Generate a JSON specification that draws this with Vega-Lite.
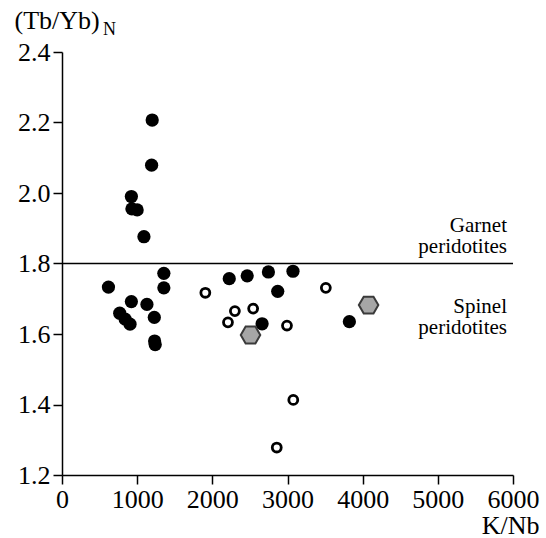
{
  "$schema": "https://vega.github.io/schema/vega-lite/v6.json",
  "width": 451,
  "height": 423,
  "autosize": {"type": "none"},
  "padding": {"left": 62, "top": 52, "right": 33, "bottom": 63},
  "background": "white",
  "config": {
    "view": {"stroke": null},
    "font": "Liberation Serif",
    "axis": {"labelFont": "Liberation Serif", "titleFont": "Liberation Serif", "labelColor": "black", "titleColor": "black", "domainColor": "black", "tickColor": "black", "grid": false, "labelFontSize": 26, "titleFontSize": 26, "titleFontWeight": "normal", "domainWidth": 1.5, "tickWidth": 1.5, "tickSize": 9}
  },
  "datasets": {
    "pts": [
      {"k": 1200, "tb": 2.207, "type": "filled"},
      {"k": 1192, "tb": 2.079, "type": "filled"},
      {"k": 923, "tb": 1.99, "type": "filled"},
      {"k": 930, "tb": 1.955, "type": "filled"},
      {"k": 1000, "tb": 1.952, "type": "filled"},
      {"k": 1090, "tb": 1.876, "type": "filled"},
      {"k": 1355, "tb": 1.772, "type": "filled"},
      {"k": 1355, "tb": 1.731, "type": "filled"},
      {"k": 618, "tb": 1.733, "type": "filled"},
      {"k": 923, "tb": 1.692, "type": "filled"},
      {"k": 1130, "tb": 1.684, "type": "filled"},
      {"k": 768, "tb": 1.659, "type": "filled"},
      {"k": 840, "tb": 1.642, "type": "filled"},
      {"k": 905, "tb": 1.628, "type": "filled"},
      {"k": 1228, "tb": 1.647, "type": "filled"},
      {"k": 1232, "tb": 1.58, "type": "filled"},
      {"k": 1240, "tb": 1.57, "type": "filled"},
      {"k": 2225, "tb": 1.757, "type": "filled"},
      {"k": 2464, "tb": 1.765, "type": "filled"},
      {"k": 2746, "tb": 1.776, "type": "filled"},
      {"k": 3073, "tb": 1.778, "type": "filled"},
      {"k": 2870, "tb": 1.721, "type": "filled"},
      {"k": 3823, "tb": 1.635, "type": "filled"},
      {"k": 1907, "tb": 1.717, "type": "open"},
      {"k": 3510, "tb": 1.731, "type": "open"},
      {"k": 2300, "tb": 1.665, "type": "open"},
      {"k": 2543, "tb": 1.672, "type": "open"},
      {"k": 2208, "tb": 1.633, "type": "open"},
      {"k": 2993, "tb": 1.624, "type": "open"},
      {"k": 3077, "tb": 1.413, "type": "open"},
      {"k": 2857, "tb": 1.278, "type": "open"},
      {"k": 2508, "tb": 1.597, "type": "hex"},
      {"k": 2662, "tb": 1.629, "type": "filled"},
      {"k": 4079, "tb": 1.682, "type": "hex"}
    ],
    "notes": [
      {"label": "Garnet\nperidotites", "k": 6000, "tb": 1.89},
      {"label": "Spinel\nperidotites", "k": 6000, "tb": 1.66}
    ]
  },
  "layer": [
    {
      "data": {"values": [{"v": 1.8}]},
      "mark": {"type": "rule", "color": "black", "strokeWidth": 1.5},
      "encoding": {"y": {"field": "v", "type": "quantitative", "scale": {"domain": [1.2, 2.4]}}}
    },
    {
      "data": {"name": "pts"},
      "transform": [{"filter": "datum.type === 'filled'"}],
      "mark": {"type": "point", "shape": "circle", "filled": true, "color": "black", "size": 175, "opacity": 1},
      "encoding": {
        "x": {"field": "k", "type": "quantitative", "scale": {"domain": [0, 6000]}, "axis": {"values": [0, 1000, 2000, 3000, 4000, 5000, 6000], "format": "d", "title": "K/Nb", "titleAnchor": "end", "titleAlign": "right", "titleBaseline": "alphabetic", "titleX": 477, "titleY": 58, "labelPadding": 2, "labelFlush": false}},
        "y": {"field": "tb", "type": "quantitative", "scale": {"domain": [1.2, 2.4]}, "axis": {"values": [1.2, 1.4, 1.6, 1.8, 2.0, 2.2, 2.4], "format": ".1f", "title": "(Tb/Yb)", "titleAngle": 0, "titleAlign": "left", "titleBaseline": "alphabetic", "titleX": -48, "titleY": -24, "labelPadding": 3}}
      }
    },
    {
      "data": {"name": "pts"},
      "transform": [{"filter": "datum.type === 'open'"}],
      "mark": {"type": "point", "shape": "circle", "filled": false, "fill": "white", "stroke": "black", "strokeWidth": 2.8, "size": 80, "opacity": 1},
      "encoding": {
        "x": {"field": "k", "type": "quantitative"},
        "y": {"field": "tb", "type": "quantitative"}
      }
    },
    {
      "data": {"name": "pts"},
      "transform": [{"filter": "datum.type === 'hex'"}],
      "mark": {"type": "point", "shape": "M-1,0L-0.5,-0.866L0.5,-0.866L1,0L0.5,0.866L-0.5,0.866Z", "filled": true, "fill": "#a6a6a6", "stroke": "#3a3a3a", "strokeWidth": 2, "size": 380, "opacity": 1},
      "encoding": {
        "x": {"field": "k", "type": "quantitative"},
        "y": {"field": "tb", "type": "quantitative"}
      }
    },
    {
      "data": {"name": "notes"},
      "mark": {"type": "text", "align": "right", "baseline": "alphabetic", "font": "Liberation Serif", "fontSize": 21, "lineBreak": "\n", "lineHeight": 21, "color": "black", "dx": -6},
      "encoding": {
        "x": {"field": "k", "type": "quantitative"},
        "y": {"field": "tb", "type": "quantitative"},
        "text": {"field": "label"}
      }
    },
    {
      "data": {"values": [{"k": 0, "tb": 2.4, "label": "N"}]},
      "mark": {"type": "text", "align": "left", "baseline": "alphabetic", "font": "Liberation Serif", "fontSize": 18, "color": "black", "dx": 41, "dy": -17},
      "encoding": {
        "x": {"field": "k", "type": "quantitative"},
        "y": {"field": "tb", "type": "quantitative"},
        "text": {"field": "label"}
      }
    }
  ]
}
